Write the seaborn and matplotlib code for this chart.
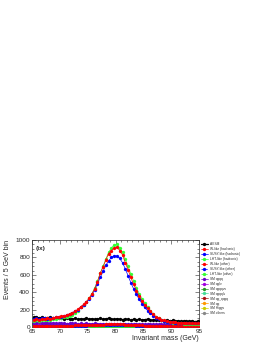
import numpy as np
import pandas as pd
import matplotlib
matplotlib.use("Agg")
import matplotlib.pyplot as plt
import seaborn as sns
from matplotlib.ticker import MultipleLocator

sns.set_theme(style="ticks")
plt.rcParams['font.family'] = ['Liberation Sans', 'DejaVu Sans']

# bin centres (0.5 GeV grid from 65 to 95)
mass = np.arange(65.25, 95.0, 0.5)

all_sm = [110, 115, 105, 112, 100, 108, 112, 98, 102, 106,
          98, 92, 100, 95, 90, 98, 88, 95, 92, 100,
          90, 96, 88, 92, 98, 90, 95, 100, 92, 88,
          95, 90, 86, 92, 88, 80, 90, 85, 88, 82,
          85, 90, 80, 78, 85, 75, 80, 72, 78, 70,
          75, 68, 72, 65, 70, 68, 65, 70, 62, 66]
w_had = [85, 90, 80, 95, 90, 100, 95, 105, 110, 115,
         125, 130, 140, 155, 165, 185, 205, 235, 260, 290,
         330, 380, 440, 520, 620, 690, 770, 845, 880, 910,
         920, 880, 830, 740, 660, 570, 490, 420, 360, 300,
         255, 215, 180, 150, 120, 100, 85, 75, 65, 60,
         55, 52, 50, 48, 50, 45, 48, 44, 46, 42]
susy_had = [95, 100, 90, 100, 105, 95, 105, 100, 110, 115,
            120, 128, 140, 150, 165, 180, 200, 230, 255, 285,
            320, 370, 430, 500, 570, 640, 710, 760, 800, 820,
            815, 790, 740, 670, 590, 510, 440, 375, 320, 270,
            225, 190, 158, 130, 105, 88, 75, 66, 60, 55,
            52, 50, 48, 47, 46, 45, 44, 44, 43, 42]
lht_had = [70, 75, 70, 80, 75, 85, 80, 90, 95, 100,
           105, 115, 120, 130, 140, 160, 190, 225, 255, 290,
           330, 385, 450, 530, 620, 700, 780, 860, 910, 945,
           955, 910, 860, 780, 700, 610, 530, 450, 385, 325,
           275, 225, 185, 150, 120, 98, 82, 70, 62, 55,
           50, 46, 44, 42, 40, 40, 38, 38, 36, 35]
w_oth = [12, 14, 11, 13, 12, 15, 13, 12, 14, 13,
         15, 14, 16, 15, 17, 18, 19, 20, 21, 22,
         23, 24, 25, 26, 27, 28, 29, 30, 30, 31,
         30, 30, 29, 28, 26, 25, 23, 21, 20, 18,
         17, 16, 15, 14, 13, 12, 12, 11, 11, 10,
         10, 11, 10, 9, 10, 9, 10, 9, 9, 8]
susy_oth = [9, 10, 8, 10, 9, 11, 10, 9, 11, 10,
            11, 10, 12, 11, 12, 13, 14, 15, 16, 17,
            18, 19, 20, 21, 22, 23, 23, 24, 24, 25,
            24, 24, 23, 22, 21, 20, 18, 17, 16, 15,
            14, 13, 12, 11, 11, 10, 10, 9, 9, 8,
            9, 8, 8, 7, 8, 7, 8, 7, 7, 6]
lht_oth = [4, 5, 4, 5, 4, 6, 5, 4, 5, 5,
           6, 5, 6, 5, 6, 7, 7, 8, 8, 9,
           9, 10, 10, 11, 11, 12, 12, 12, 13, 13,
           13, 12, 12, 11, 11, 10, 10, 9, 8, 8,
           7, 7, 6, 6, 6, 5, 5, 5, 4, 4,
           4, 5, 4, 4, 4, 3, 4, 3, 4, 3]
sm_qqqq = [50, 48, 52, 45, 50, 47, 44, 48, 45, 42,
           46, 44, 40, 43, 41, 45, 40, 42, 38, 41,
           40, 38, 42, 37, 40, 38, 36, 39, 37, 40,
           36, 38, 35, 37, 34, 36, 35, 33, 36, 34,
           32, 35, 33, 31, 34, 32, 30, 33, 31, 30,
           32, 29, 31, 30, 28, 30, 29, 27, 29, 28]
sm_qqlv = [30, 28, 31, 27, 29, 30, 26, 28, 29, 27,
           28, 26, 29, 27, 25, 28, 26, 27, 25, 28,
           26, 25, 27, 24, 26, 25, 27, 24, 25, 26,
           24, 25, 23, 26, 24, 23, 25, 22, 24, 23,
           22, 24, 21, 23, 22, 21, 23, 20, 22, 21,
           20, 22, 19, 21, 20, 19, 21, 18, 20, 19]
sm_qqqqvv = [5, 4, 6, 4, 5, 5, 4, 6, 5, 4,
             5, 4, 5, 6, 4, 5, 4, 5, 5, 4,
             5, 4, 4, 5, 4, 5, 4, 4, 5, 4,
             4, 5, 4, 4, 3, 4, 4, 3, 4, 4,
             3, 4, 3, 4, 3, 3, 4, 3, 3, 3,
             3, 3, 2, 3, 3, 2, 3, 2, 3, 2]
sm_qqqqlv = [11, 10, 12, 9, 11, 10, 12, 10, 9, 11,
             10, 9, 11, 10, 9, 10, 11, 9, 10, 9,
             10, 9, 11, 9, 10, 8, 10, 9, 9, 10,
             8, 9, 9, 8, 10, 8, 9, 8, 9, 8,
             8, 9, 7, 8, 8, 7, 8, 7, 8, 7,
             7, 8, 6, 7, 7, 6, 7, 6, 7, 6]
sm_qq_qqqq = [3, 2, 3, 2, 3, 3, 2, 3, 2, 3,
              2, 3, 2, 2, 3, 2, 3, 2, 2, 3,
              2, 2, 3, 2, 2, 2, 3, 2, 2, 2,
              2, 2, 2, 2, 2, 1, 2, 2, 2, 1,
              2, 1, 2, 2, 1, 2, 1, 2, 1, 1,
              2, 1, 1, 1, 2, 1, 1, 1, 1, 1]
sm_qq = [7, 6, 8, 6, 7, 6, 7, 5, 7, 6,
         6, 7, 5, 6, 6, 5, 7, 6, 5, 6,
         6, 5, 6, 5, 6, 5, 5, 6, 5, 5,
         5, 6, 4, 5, 5, 4, 5, 5, 4, 5,
         4, 5, 4, 4, 5, 4, 4, 4, 3, 4,
         4, 3, 4, 3, 4, 3, 3, 4, 3, 3]
sm_higgs = [1, 1, 1, 1, 1, 1, 1, 1, 1, 1,
            1, 1, 1, 1, 1, 2, 1, 1, 1, 1,
            1, 1, 1, 1, 1, 1, 1, 1, 1, 1,
            1, 1, 1, 1, 1, 1, 1, 1, 1, 1,
            1, 1, 1, 1, 1, 1, 1, 1, 1, 1,
            1, 1, 1, 1, 1, 1, 1, 1, 1, 1]
sm_others = [20, 18, 21, 17, 19, 20, 18, 16, 19, 17,
             18, 16, 19, 17, 18, 16, 17, 18, 15, 17,
             16, 18, 15, 16, 17, 15, 16, 14, 16, 15,
             14, 16, 15, 13, 15, 14, 13, 15, 14, 13,
             14, 12, 13, 14, 12, 13, 12, 11, 13, 12,
             11, 12, 11, 10, 12, 11, 10, 11, 10, 10]

labels = ['All SM', 'W-like (hadronic)', 'SUSY-like (hadronic)', 'LHT-like (hadronic)',
          'W-like (other)', 'SUSY-like (other)', 'LHT-like (other)',
          'SM qqqq', 'SM qql\u03bd', 'SM qqqq\u03bd\u03bd', 'SM qqqql\u03bd',
          'SM qq_qqqq', 'SM qq', 'SM Higgs', 'SM others']
series = [all_sm, w_had, susy_had, lht_had, w_oth, susy_oth, lht_oth,
          sm_qqqq, sm_qqlv, sm_qqqqvv, sm_qqqqlv, sm_qq_qqqq, sm_qq, sm_higgs, sm_others]
colors = ['#000000', '#ff0000', '#0000ff', '#33ff33', '#ff0000', '#0000ff', '#33ff33',
          '#6a00cc', '#a000e0', '#229922', '#44dd99', '#aa1111', '#ff9900', '#cccc00', '#888888']
styles = ['-', '-', '-', '-', '--', '--', '--', '-', '-', '-', '-', '-', '-', '-', '-']

fig = plt.figure(figsize=(2.70, 3.49), dpi=100)
ax = fig.add_axes([0.119, 0.063, 0.618, 0.249])

# draw small backgrounds first, signals on top
order = list(range(len(series)))[::-1]
for i in order:
    df = pd.DataFrame({'mass': mass, 'events': series[i]})
    lw = 0.9 if i == 0 else 0.5
    sns.lineplot(data=df, x='mass', y='events', ax=ax, color=colors[i],
                 linestyle=styles[i], linewidth=lw, marker='o', markersize=2.4,
                 markeredgewidth=0, label=labels[i], zorder=3 + (i in (1, 2, 3)) * 2)

ax.set_xlim(65, 95)
ax.set_ylim(0, 1000)
ax.xaxis.set_major_locator(MultipleLocator(5))
ax.xaxis.set_minor_locator(MultipleLocator(1))
ax.yaxis.set_major_locator(MultipleLocator(200))
ax.yaxis.set_minor_locator(MultipleLocator(50))
ax.tick_params(which='both', direction='in', top=True, right=True, labelsize=4.6,
               width=0.4, pad=1.5)
ax.tick_params(which='major', length=3)
ax.tick_params(which='minor', length=1.5)
for s in ax.spines.values():
    s.set_linewidth(0.5)

ax.set_xlabel('Invariant mass (GeV)', fontsize=5, loc='right', labelpad=1)
ax.set_ylabel('Events / 5 GeV bin', fontsize=5, loc='top', labelpad=3)
ax.text(0.02, 0.93, '(ix)', transform=ax.transAxes, fontsize=4.6, fontweight='bold',
        va='top', ha='left')

h, l = ax.get_legend_handles_labels()
pairs = dict(zip(l, h))
ax.legend([pairs[k] for k in labels], labels, loc='upper left', bbox_to_anchor=(1.0, 1.0),
          fontsize=2.3, frameon=False, handlelength=2.2, handletextpad=0.6,
          labelspacing=0.3, borderaxespad=0.2)

fig.savefig('out.png', dpi=100)
